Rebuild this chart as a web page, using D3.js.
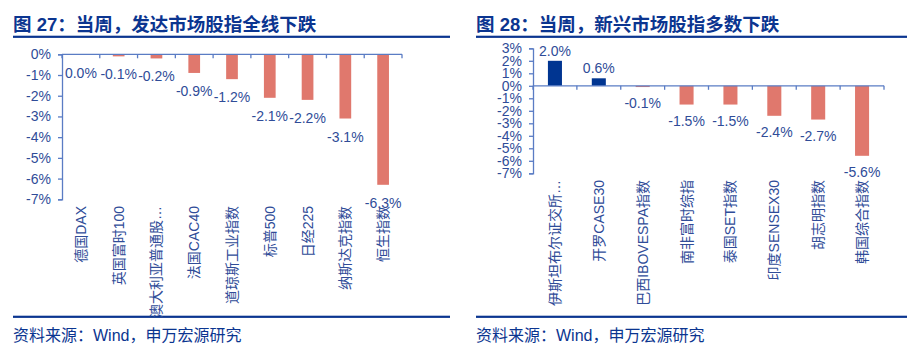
<!DOCTYPE html>
<html><head><meta charset="utf-8">
<script src="https://cdn.jsdelivr.net/npm/d3@7"></script>
<style>
html,body{margin:0;padding:0;background:#fff;}
svg{display:block;font-family:"Liberation Sans","Noto Sans CJK SC",sans-serif;}
</style></head>
<body>
<svg id="c" width="922" height="354"></svg>
<script>
// ---- data ----
const leftTitle = "图 27：当周，发达市场股指全线下跌";
const leftCategories = ["德国DAX","英国富时100","澳大利亚普通股…","法国CAC40","道琼斯工业指数","标普500","日经225","纳斯达克指数","恒生指数"];
const leftValues = [-0.03,-0.1,-0.2,-0.9,-1.2,-2.1,-2.2,-3.1,-6.3];
const leftTicks = [0,-1,-2,-3,-4,-5,-6,-7];

const rightTitle = "图 28：当周，新兴市场股指多数下跌";
const rightCategories = ["伊斯坦布尔证交所…","开罗CASE30","巴西IBOVESPA指数","南非富时综指","泰国SET指数","印度SENSEX30","胡志明指数","韩国综合指数"];
const rightValues = [2.0,0.6,-0.1,-1.5,-1.5,-2.4,-2.7,-5.6];
const rightTicks = [3,2,1,0,-1,-2,-3,-4,-5,-6,-7];

const sourceText = "资料来源：Wind，申万宏源研究";

// ---- style ----
const titleColor = "#0b3590";
const textColor = "#2f4c98";
const axisColor = "#5a7cc4";
const negColor = "#e0786d";
const posColor = "#003591";

const svg = d3.select("#c");
const fmt = v => { const s = v.toFixed(1); return (s === "-0.0" ? "0.0" : s) + "%"; };

function panel(o){
  const g = svg.append("g");
  // title
  g.append("text").attr("x", o.px).attr("y", 31)
    .attr("font-size", 18.5).attr("font-weight", "bold").attr("fill", titleColor)
    .text(o.title);
  g.append("rect").attr("x", o.px).attr("y", 35.7).attr("width", o.pw).attr("height", 2.2).attr("fill", titleColor);
  g.append("rect").attr("x", o.px).attr("y", 315.7).attr("width", o.pw).attr("height", 2.2).attr("fill", titleColor);
  g.append("text").attr("x", o.px).attr("y", 341)
    .attr("font-size", 16).attr("fill", titleColor).text(sourceText);

  const x = d3.scaleBand().domain(o.cats).range([o.x0, o.x1]).paddingInner(0).paddingOuter(0);
  const y = d3.scaleLinear().domain([o.ymin, o.ymax]).range([o.yb, o.yt]);

  // y axis
  const ya = g.append("g").attr("transform", `translate(${o.x0},0)`)
    .call(d3.axisLeft(y).tickValues(o.ticks).tickSize(4).tickPadding(7).tickFormat(d => d + "%"));
  ya.select(".domain").attr("stroke", axisColor).attr("stroke-width", 1.3);
  ya.selectAll(".tick line").attr("stroke", axisColor).attr("stroke-width", 1.3);
  ya.selectAll(".tick text").attr("fill", textColor).attr("font-size", 14)
    .attr("font-family", "Liberation Sans, sans-serif");

  // bars
  const bw = x.bandwidth() * o.barFrac;
  g.selectAll("rect.bar").data(o.vals).join("rect").attr("class", "bar")
    .attr("x", (d, i) => x(o.cats[i]) + (x.bandwidth() - bw) / 2)
    .attr("width", bw)
    .attr("y", d => y(Math.max(0, d)))
    .attr("height", d => Math.abs(y(d) - y(0)))
    .attr("fill", d => d >= 0 ? posColor : negColor);

  // x axis line at 0 with ticks at boundaries
  const y0 = y(0);
  g.append("line").attr("x1", o.x0).attr("x2", o.x1).attr("y1", y0).attr("y2", y0)
    .attr("stroke", axisColor).attr("stroke-width", 1.3);
  const bounds = o.cats.map(c => x(c)).concat([o.x1]);
  g.selectAll("line.xt").data(bounds).join("line").attr("class", "xt")
    .attr("x1", d => d).attr("x2", d => d).attr("y1", y0).attr("y2", y0 + 4)
    .attr("stroke", axisColor).attr("stroke-width", 1.3);

  // value labels
  g.selectAll("text.val").data(o.vals).join("text").attr("class", "val")
    .attr("x", (d, i) => x(o.cats[i]) + x.bandwidth() / 2)
    .attr("y", d => d >= 0 ? y(d) - 5 : y(d) + o.negOff)
    .attr("text-anchor", "middle").attr("font-size", 14).attr("fill", textColor)
    .text(d => fmt(d));

  // category labels rotated
  g.selectAll("text.cat").data(o.cats).join("text").attr("class", "cat")
    .attr("transform", c => `translate(${x(c) + x.bandwidth() / 2},${o.labY}) rotate(-90)`)
    .attr("text-anchor", "end").attr("dominant-baseline", "central")
    .attr("font-size", 14).attr("fill", textColor)
    .text(c => c);
}

panel({px: 13, pw: 437, title: leftTitle, cats: leftCategories, vals: leftValues, ticks: leftTicks,
  x0: 62, x1: 402, yt: 54.3, yb: 199.3, ymax: 0, ymin: -7, barFrac: 0.31, negOff: 23, labY: 206});
panel({px: 476, pw: 431, title: rightTitle, cats: rightCategories, vals: rightValues, ticks: rightTicks,
  x0: 533, x1: 884, yt: 48.3, yb: 173.3, ymax: 3, ymin: -7, barFrac: 0.32, negOff: 21, labY: 180});
</script>
</body></html>
